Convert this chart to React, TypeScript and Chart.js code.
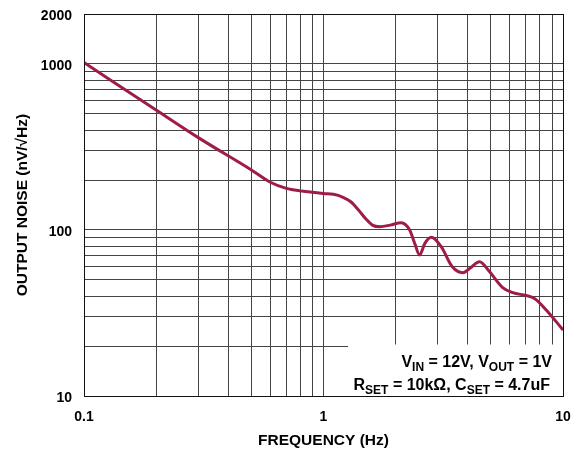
import React, { useEffect, useRef } from 'react';
import { Chart, registerables } from 'chart.js';

Chart.register(...registerables);

const frequencyHz = [
  0.1, 0.2, 0.3, 0.5, 0.6, 0.7, 0.8, 0.9, 1.0, 1.1, 1.2, 1.3, 1.4, 1.5, 1.6, 1.72, 1.9,
  2.11, 2.29, 2.4, 2.52, 2.65, 2.82, 3.1, 3.45, 3.82, 4.1, 4.48, 4.94, 5.6, 6.17, 7.02, 7.6, 8.51, 10,
];
const noiseNv = [
  1020, 528, 360, 230, 194, 178, 172, 169, 166, 164, 158, 148, 132, 117, 107, 104.6, 107,
  110.6, 100, 83.5, 70.7, 83, 90.3, 79.3, 60, 55.3, 59, 64.4, 56, 45, 41.9, 40.3, 38.7, 33, 25,
];

const xTickValues = [0.1, 0.2, 0.3, 0.4, 0.5, 0.6, 0.7, 0.8, 0.9, 1, 2, 3, 4, 5, 6, 7, 8, 9, 10];
const yTickValues = [10, 20, 30, 40, 50, 60, 70, 80, 90, 100, 200, 300, 400, 500, 600, 700, 800, 900, 1000, 2000];
const xLabelValues = [0.1, 1, 10];
const xLabelTexts = ['0.1', '1', '10'];
const yLabelValues = [10, 100, 1000, 2000];
const yLabelTexts = ['10', '100', '1000', '2000'];

const xTitle = 'FREQUENCY (Hz)';
const yTitle = 'OUTPUT NOISE (nV/√Hz)';

type Part = { t: string; sub?: boolean };
const annotationLines: Part[][] = [
  [{ t: 'V' }, { t: 'IN', sub: true }, { t: ' = 12V, V' }, { t: 'OUT', sub: true }, { t: ' = 1V' }],
  [{ t: 'R' }, { t: 'SET', sub: true }, { t: ' = 10kΩ, C' }, { t: 'SET', sub: true }, { t: ' = 4.7uF' }],
];

const FONT = '"Liberation Sans", Arial, Helvetica, sans-serif';

function labelFor(value: number, vals: number[], texts: string[]) {
  for (let i = 0; i < vals.length; i++) {
    if (Math.abs(value - vals[i]) / vals[i] < 1e-6) return texts[i];
  }
  return '';
}

function clearScalePadding(scale: any) {
  scale.paddingTop = 0;
  scale.paddingBottom = 0;
  scale.paddingLeft = 0;
  scale.paddingRight = 0;
}

const framePlugin = {
  id: 'frameAndNote',
  afterDraw(chart: any) {
    const { ctx, chartArea } = chart;
    const { left, right, top, bottom } = chartArea;
    ctx.save();
    // note box (hides grid)
    const boxLeft = 348;
    const boxTop = 344.5;
    ctx.fillStyle = '#ffffff';
    ctx.fillRect(boxLeft, boxTop, right - boxLeft, bottom - boxTop);
    // frame
    ctx.strokeStyle = '#111';
    ctx.lineWidth = 1;
    ctx.strokeRect(Math.round(left) + 0.5, Math.round(top) + 0.5, Math.round(right) - Math.round(left), Math.round(bottom) - Math.round(top));
    // annotation text
    const mainFont = `bold 16px ${FONT}`;
    const subFont = `bold 12px ${FONT}`;
    const baselines = [367, 390];
    const rightX = [552, 550];
    ctx.fillStyle = '#000';
    ctx.textBaseline = 'alphabetic';
    ctx.textAlign = 'left';
    annotationLines.forEach((parts, li) => {
      let w = 0;
      parts.forEach((p) => {
        ctx.font = p.sub ? subFont : mainFont;
        w += ctx.measureText(p.t).width;
      });
      let x = rightX[li] - w;
      parts.forEach((p) => {
        ctx.font = p.sub ? subFont : mainFont;
        ctx.fillText(p.t, x, baselines[li] + (p.sub ? 4 : 0));
        x += ctx.measureText(p.t).width;
      });
    });
    ctx.restore();
  },
};

export default function App() {
  const canvasRef = useRef<HTMLCanvasElement | null>(null);

  useEffect(() => {
    if (!canvasRef.current) return;
    const data = frequencyHz.map((f, i) => ({ x: f, y: noiseNv[i] }));
    const chart = new Chart(canvasRef.current, {
      type: 'line',
      data: {
        datasets: [
          {
            data,
            borderColor: '#a01c48',
            borderWidth: 3,
            pointRadius: 0,
            cubicInterpolationMode: 'monotone',
            fill: false,
          },
        ],
      },
      options: {
        animation: false,
        responsive: true,
        maintainAspectRatio: false,
        layout: { padding: { left: 0, right: 18, top: 14, bottom: 0 } },
        plugins: { legend: { display: false }, tooltip: { enabled: false } },
        scales: {
          x: {
            type: 'logarithmic',
            min: 0.1,
            max: 10,
            afterBuildTicks: (scale: any) => {
              scale.ticks = xTickValues.map((v) => ({ value: v }));
            },
            afterFit: (scale: any) => {
              scale.height = 56;
              clearScalePadding(scale);
            },
            grid: { color: '#444', lineWidth: 1, drawTicks: false },
            border: { display: false },
            ticks: {
              autoSkip: false,
              maxRotation: 0,
              padding: 12.5,
              color: '#000',
              font: { family: FONT, size: 14, weight: 'bold' },
              callback: (v: any) => labelFor(Number(v), xLabelValues, xLabelTexts),
            },
            title: {
              display: true,
              text: xTitle,
              color: '#000',
              font: { family: FONT, size: 15.5, weight: 'bold' },
              padding: { top: 0, bottom: 2 },
            },
          },
          y: {
            type: 'logarithmic',
            min: 10,
            max: 2000,
            afterBuildTicks: (scale: any) => {
              scale.ticks = yTickValues.map((v) => ({ value: v }));
            },
            afterFit: (scale: any) => {
              scale.width = 84;
              clearScalePadding(scale);
            },
            grid: { color: '#444', lineWidth: 1, drawTicks: false },
            border: { display: false },
            ticks: {
              autoSkip: false,
              padding: 12,
              labelOffset: 2,
              color: '#000',
              font: { family: FONT, size: 14, weight: 'bold' },
              callback: (v: any) => labelFor(Number(v), yLabelValues, yLabelTexts),
            },
            title: {
              display: true,
              text: yTitle,
              color: '#000',
              font: { family: FONT, size: 15.5, weight: 'bold' },
              padding: { top: 13, bottom: 0 },
            },
          },
        },
      },
      plugins: [framePlugin],
    });
    return () => chart.destroy();
  }, []);

  return (
    <div style={{ position: 'fixed', left: 0, top: 0, width: 581, height: 452, background: '#fff' }}>
      <canvas ref={canvasRef} />
    </div>
  );
}
